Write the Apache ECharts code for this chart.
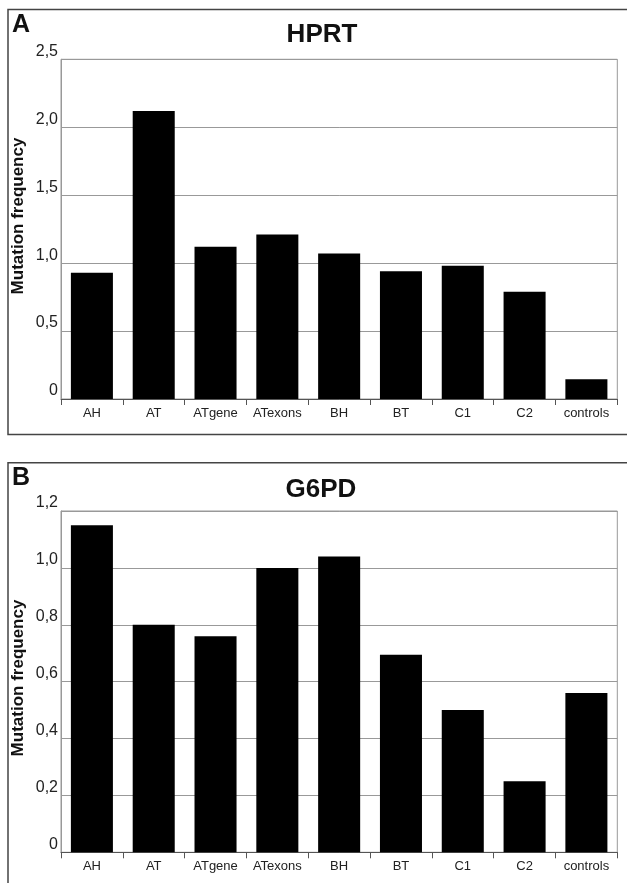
<!DOCTYPE html>
<html>
<head>
<meta charset="utf-8">
<script src="https://cdn.jsdelivr.net/npm/echarts@6/dist/echarts.min.js"></script>
<style>
html,body{margin:0;padding:0;background:#fff;}
#chart{width:627px;height:883px;}
</style>
</head>
<body>
<div id="chart"></div>
<script>
const categories = ['AH','AT','ATgene','ATexons','BH','BT','C1','C2','controls'];
const hprtValues = [0.93, 2.12, 1.12, 1.21, 1.07, 0.94, 0.98, 0.79, 0.145];
const g6pdValues = [1.15, 0.80, 0.76, 1.00, 1.04, 0.695, 0.50, 0.25, 0.56];
const hprtTicks = {min: 0, max: 2.5, interval: 0.5};
const g6pdTicks = {min: 0, max: 1.2, interval: 0.2};
const titles = ['HPRT', 'G6PD'];
const panelLetters = ['A', 'B'];
const yName = 'Mutation frequency';

const FONT = '"Liberation Sans", Arial, Helvetica, sans-serif';
const fmt = v => (v === 0 ? '0' : v.toFixed(1).replace('.', ','));

const grids = [
  {left: 61, top: 59.3, width: 556.3, height: 339.7},
  {left: 61, top: 511, width: 556.3, height: 341.3}
];

function xAxisFor(i) {
  return {
    type: 'category', gridIndex: i, data: categories,
    axisLine: {show: true, lineStyle: {color: '#555', width: 1}},
    axisTick: {show: true, length: 6, lineStyle: {color: '#555'}},
    axisLabel: {color: '#222', fontSize: 13, fontFamily: FONT, margin: 8, interval: 0},
    splitLine: {show: false}
  };
}
function yAxisFor(i, t) {
  return {
    type: 'value', gridIndex: i, min: t.min, max: t.max, interval: t.interval,
    axisLine: {show: true, lineStyle: {color: '#999', width: 1}},
    axisTick: {show: false},
    axisLabel: {color: '#222', fontSize: 16, fontFamily: FONT, margin: 3,
      verticalAlign: 'bottom', lineHeight: 16, formatter: fmt},
    splitLine: {show: true, lineStyle: {color: '#999', width: 1}}
  };
}

const chart = echarts.init(document.getElementById('chart'), null, {renderer: 'canvas'});
chart.setOption({
  backgroundColor: '#fff',
  animation: false,
  grid: grids.map(g => Object.assign({show: true, borderColor: '#999', borderWidth: 1, backgroundColor: 'transparent'}, g)),
  xAxis: [xAxisFor(0), xAxisFor(1)],
  yAxis: [yAxisFor(0, hprtTicks), yAxisFor(1, g6pdTicks)],
  series: [
    {type: 'bar', xAxisIndex: 0, yAxisIndex: 0, data: hprtValues, barWidth: '68%',
     itemStyle: {color: '#000'}},
    {type: 'bar', xAxisIndex: 1, yAxisIndex: 1, data: g6pdValues, barWidth: '68%',
     itemStyle: {color: '#000'}}
  ],
  graphic: [
    {type: 'rect', shape: {x: 8, y: 9.5, width: 700, height: 425}, style: {fill: 'none', stroke: '#444', lineWidth: 1.5}, silent: true},
    {type: 'rect', shape: {x: 8, y: 462.7, width: 700, height: 500}, style: {fill: 'none', stroke: '#444', lineWidth: 1.5}, silent: true},
    {type: 'text', x: 12, y: 25, style: {text: panelLetters[0], font: 'bold 25px ' + FONT, fill: '#111', textAlign: 'left', textVerticalAlign: 'middle'}},
    {type: 'text', x: 12, y: 478, style: {text: panelLetters[1], font: 'bold 25px ' + FONT, fill: '#111', textAlign: 'left', textVerticalAlign: 'middle'}},
    {type: 'text', x: 322, y: 35, style: {text: titles[0], font: 'bold 26px ' + FONT, fill: '#111', textAlign: 'center', textVerticalAlign: 'middle'}},
    {type: 'text', x: 321, y: 490, style: {text: titles[1], font: 'bold 26px ' + FONT, fill: '#111', textAlign: 'center', textVerticalAlign: 'middle'}},
    {type: 'text', x: 18.5, y: 216, rotation: Math.PI / 2, style: {text: yName, font: 'bold 17px ' + FONT, fill: '#111', textAlign: 'center', textVerticalAlign: 'middle'}},
    {type: 'text', x: 18.5, y: 678, rotation: Math.PI / 2, style: {text: yName, font: 'bold 17px ' + FONT, fill: '#111', textAlign: 'center', textVerticalAlign: 'middle'}}
  ]
});
</script>
</body>
</html>
